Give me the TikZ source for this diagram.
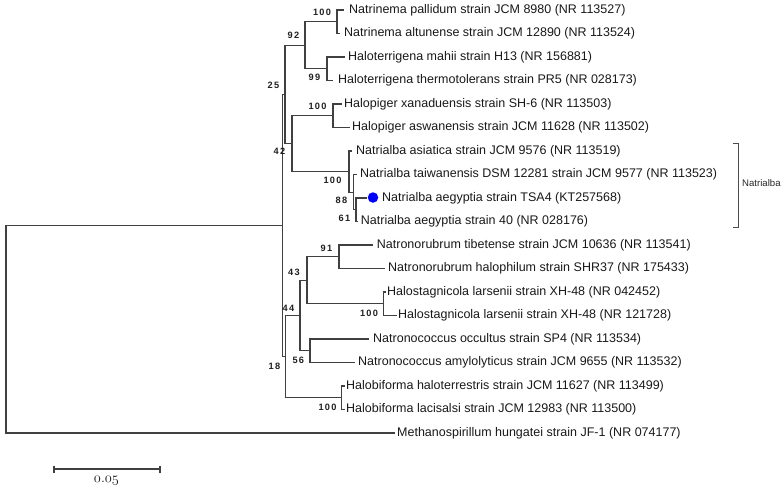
\documentclass[tikz,border=0pt]{standalone}
\usepackage{fontspec}
\setmainfont{Liberation Sans}
\newfontfamily\bsfont[LetterSpace=14]{Liberation Sans}
\begin{document}
\begin{tikzpicture}[x=1pt,y=-1pt,
  br/.style={draw=black!75, line width=1.2pt},
  leaf/.style={anchor=west, inner sep=0pt, text=black!90, font=\fontsize{12.5}{14}\selectfont},
  bs/.style={inner sep=0pt, text=black!88, font=\bsfont\bfseries\fontsize{9.2}{10}\selectfont},
  bracket/.style={draw=black!70, line width=0.9pt}]
\useasboundingbox (0,0) rectangle (784,493);
% internal nodes
\coordinate (nat) at (337,21.75);
\coordinate (hter) at (327,68.75);
\coordinate (n92) at (305,45.25);
\coordinate (hpig) at (333,115.75);
\coordinate (nB) at (356,209.75);
\coordinate (nA) at (353.3,192.1);
\coordinate (ntr) at (349,171.6);
\coordinate (n42) at (292,143.7);
\coordinate (n25) at (285,94.5);
\coordinate (nrub) at (339,256.75);
\coordinate (hstag) at (383.3,303.75);
\coordinate (n43) at (307,280.25);
\coordinate (ncoc) at (310,350.75);
\coordinate (n44) at (300,315.5);
\coordinate (hbif) at (341.7,397.75);
\coordinate (n18) at (285.7,356.6);
\coordinate (ning) at (282.7,225.6);
\coordinate (root) at (6,329.3);
% leaf branch ends
\coordinate (e0) at (344,10);
\coordinate (e1) at (340,33.5);
\coordinate (e2) at (345,57);
\coordinate (e3) at (333,80.5);
\coordinate (e4) at (341.7,104);
\coordinate (e5) at (350,127.5);
\coordinate (e6) at (352,151);
\coordinate (e7) at (357,174.5);
\coordinate (e8) at (367,198);
\coordinate (e9) at (358,221.5);
\coordinate (e10) at (373,245);
\coordinate (e11) at (385,268.5);
\coordinate (e12) at (386,292);
\coordinate (e13) at (396.7,315.5);
\coordinate (e14) at (369,339);
\coordinate (e15) at (355,362.5);
\coordinate (e16) at (345,386);
\coordinate (e17) at (345,409.5);
\coordinate (e18) at (395,433);
% leaf labels
\node[leaf] (t0) at (349,10) {Natrinema pallidum strain JCM 8980 (NR 113527)};
\node[leaf] (t1) at (344,33.5) {Natrinema altunense strain JCM 12890 (NR 113524)};
\node[leaf] (t2) at (348,57) {Haloterrigena mahii strain H13 (NR 156881)};
\node[leaf] (t3) at (338,80.5) {Haloterrigena thermotolerans strain PR5 (NR 028173)};
\node[leaf] (t4) at (344,104) {Halopiger xanaduensis strain SH-6 (NR 113503)};
\node[leaf] (t5) at (352,127.5) {Halopiger aswanensis strain JCM 11628 (NR 113502)};
\node[leaf] (t6) at (356,151) {Natrialba asiatica strain JCM 9576 (NR 113519)};
\node[leaf] (t7) at (360,174.5) {Natrialba taiwanensis DSM 12281 strain JCM 9577 (NR 113523)};
\node[leaf] (t8) at (382,198) {Natrialba aegyptia strain TSA4 (KT257568)};
\node[leaf] (t9) at (360.7,221.5) {Natrialba aegyptia strain 40 (NR 028176)};
\node[leaf] (t10) at (376.7,245) {Natronorubrum tibetense strain JCM 10636 (NR 113541)};
\node[leaf] (t11) at (388,268.5) {Natronorubrum halophilum strain SHR37 (NR 175433)};
\node[leaf] (t12) at (387,292) {Halostagnicola larsenii strain XH-48 (NR 042452)};
\node[leaf] (t13) at (398,315.5) {Halostagnicola larsenii strain XH-48 (NR 121728)};
\node[leaf] (t14) at (373,339) {Natronococcus occultus strain SP4 (NR 113534)};
\node[leaf] (t15) at (358,362.5) {Natronococcus amylolyticus strain JCM 9655 (NR 113532)};
\node[leaf] (t16) at (346,386) {Halobiforma haloterrestris strain JCM 11627 (NR 113499)};
\node[leaf] (t17) at (346,409.5) {Halobiforma lacisalsi strain JCM 12983 (NR 113500)};
\node[leaf] (t18) at (397,433) {Methanospirillum hungatei strain JF-1 (NR 074177)};
% branches
\draw[br] (nat) |- (e0); \draw[br] (nat) |- (e1);
\draw[br] (hter) |- (e2); \draw[br] (hter) |- (e3);
\draw[br] (n92) |- (nat); \draw[br] (n92) |- (hter);
\draw[br] (hpig) |- (e4); \draw[br] (hpig) |- (e5);
\draw[br] (nB) |- (e8); \draw[br] (nB) |- (e9);
\draw[br] (nA) |- (e7); \draw[br] (nA) |- (nB);
\draw[br] (ntr) |- (e6); \draw[br] (ntr) |- (nA);
\draw[br] (n42) |- (hpig); \draw[br] (n42) |- (ntr);
\draw[br] (n25) |- (n92); \draw[br] (n25) |- (n42);
\draw[br] (nrub) |- (e10); \draw[br] (nrub) |- (e11);
\draw[br] (hstag) |- (e12); \draw[br] (hstag) |- (e13);
\draw[br] (n43) |- (nrub); \draw[br] (n43) |- (hstag);
\draw[br] (ncoc) |- (e14); \draw[br] (ncoc) |- (e15);
\draw[br] (n44) |- (n43); \draw[br] (n44) |- (ncoc);
\draw[br] (hbif) |- (e16); \draw[br] (hbif) |- (e17);
\draw[br] (n18) |- (n44); \draw[br] (n18) |- (hbif);
\draw[br] (ning) |- (n25); \draw[br] (ning) |- (n18);
\draw[br] (root) |- (ning); \draw[br] (root) |- (e18);
% marker
\node[circle, fill=blue, inner sep=0pt, minimum size=10.5pt] (dot) at (373,197.5) {};
% bootstrap values
\node[bs] (b1) at (322,12) {100};
\node[bs] (b2) at (293.5,35.5) {92};
\node[bs] (b3) at (314.5,77) {99};
\node[bs] (b4) at (273.5,85) {25};
\node[bs] (b5) at (317.5,106.7) {100};
\node[bs] (b6) at (279.5,151.5) {42};
\node[bs] (b7) at (332.5,180) {100};
\node[bs] (b8) at (341.5,200.7) {88};
\node[bs] (b9) at (344.5,218.3) {61};
\node[bs] (b10) at (326.5,248.3) {91};
\node[bs] (b11) at (294,272) {43};
\node[bs] (b12) at (288.5,308) {44};
\node[bs] (b13) at (298.3,360.7) {56};
\node[bs] (b14) at (274.5,366.7) {18};
\node[bs] (b15) at (327.5,407.3) {100};
\node[bs] (b16) at (369,313.3) {100};
% Natrialba bracket
\coordinate (k1) at (733,143);
\coordinate (k2) at (738,143);
\coordinate (k3) at (738,227);
\coordinate (k4) at (733,227);
\draw[bracket] (k1) -- (k2) -- (k3) -- (k4);
\node[anchor=west, inner sep=0pt, text=black!85, font=\fontsize{9.6}{11}\selectfont] (grp) at (742,183) {Natrialba};
% scale bar
\coordinate (s1) at (54,469);
\coordinate (s2) at (160,469);
\draw[draw=black!75, line width=1.2pt] (s1) -- (s2);
\draw[draw=black!75, line width=1.2pt] ([yshift=-3.5pt]s1) -- ([yshift=3.5pt]s1);
\draw[draw=black!75, line width=1.2pt] ([yshift=-3.5pt]s2) -- ([yshift=3.5pt]s2);
\node[inner sep=0pt, text=black!90] (sl) at (106.5,481) {\fontsize{14.5}{16}\usefont{OML}{cmm}{m}{it}0\char58 05};
\end{tikzpicture}
\end{document}
